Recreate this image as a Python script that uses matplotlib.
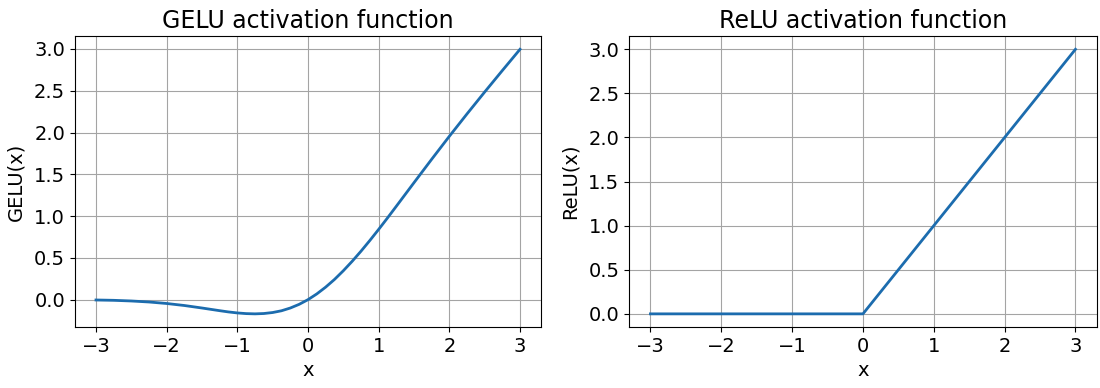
import matplotlib
matplotlib.use('Agg')
import matplotlib.pyplot as plt

# values
gelu_x = [-3.0, -2.75, -2.5, -2.25, -2.0, -1.75, -1.5, -1.375, -1.25, -1.125, -1.0,
          -0.875, -0.75, -0.625, -0.5, -0.375, -0.25, -0.125, 0.0, 0.125, 0.25,
          0.375, 0.5, 0.625, 0.75, 0.875, 1.0, 1.125, 1.25, 1.375, 1.5, 1.75,
          2.0, 2.25, 2.5, 2.75, 3.0]
gelu_y = [-0.004, -0.008, -0.016, -0.028, -0.046, -0.070, -0.100, -0.116, -0.132,
          -0.147, -0.159, -0.167, -0.170, -0.166, -0.154, -0.133, -0.100, -0.056,
          0.0, 0.069, 0.150, 0.242, 0.346, 0.459, 0.580, 0.708, 0.841, 0.978,
          1.118, 1.259, 1.400, 1.680, 1.955, 2.223, 2.485, 2.742, 2.996]

relu_x = [-3.0, 0.0, 3.0]
relu_y = [0.0, 0.0, 3.0]

panels = [
    ('GELU', gelu_x, gelu_y),
    ('ReLU', relu_x, relu_y),
]

fig = plt.figure(figsize=(11, 3.88), dpi=100)
axes = [
    fig.add_axes([0.068, 0.157, 0.424, 0.75]),
    fig.add_axes([0.572, 0.157, 0.425, 0.75]),
]

for ax, (name, xs, ys) in zip(axes, panels):
    ax.plot(xs, ys, color='#1c6cae', linewidth=2)
    ax.set_title(f'{name} activation function', fontsize=17)
    ax.set_xlabel('x', fontsize=14)
    ax.set_ylabel(f'{name}(x)', fontsize=14, labelpad=6)
    ax.tick_params(labelsize=14)
    ax.set_xticks([-3, -2, -1, 0, 1, 2, 3])
    ax.grid(True, color='#a4a4a4')

fig.savefig('out.png', dpi=100)
